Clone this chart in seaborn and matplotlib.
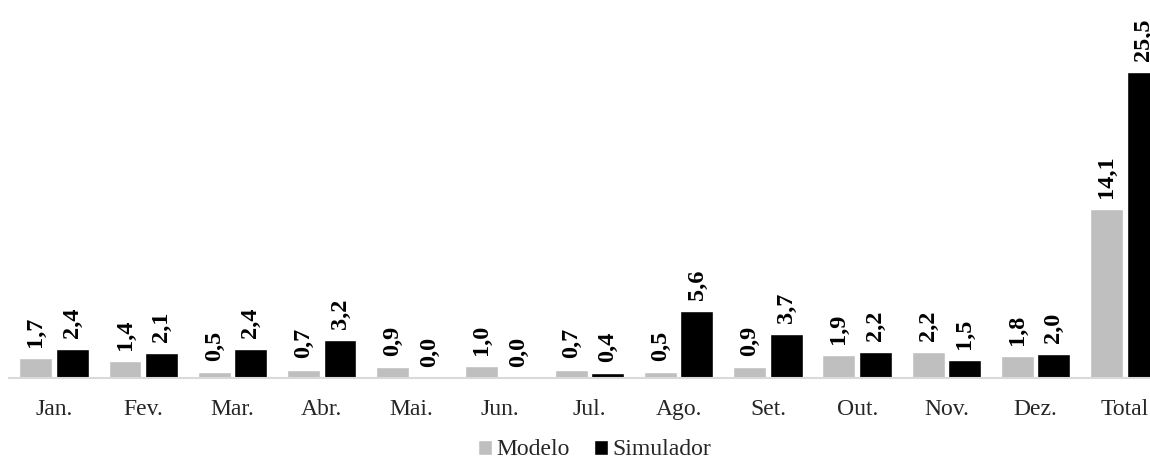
"""
plot.py
Monthly comparison Modelo vs Simulador (grouped bars with rotated labels)
"""

import pandas as pd
import matplotlib
matplotlib.use('Agg')
import matplotlib.pyplot as plt
import seaborn as sns

meses = ['Jan.', 'Fev.', 'Mar.', 'Abr.', 'Mai.', 'Jun.', 'Jul.', 'Ago.',
         'Set.', 'Out.', 'Nov.', 'Dez.', 'Total']
modelo = [1.7, 1.4, 0.5, 0.7, 0.9, 1.0, 0.7, 0.5, 0.9, 1.9, 2.2, 1.8, 14.1]
simulador = [2.4, 2.1, 2.4, 3.2, 0.0, 0.0, 0.4, 5.6, 3.7, 2.2, 1.5, 2.0, 25.5]
series = ['Modelo', 'Simulador']
cores = ['#BFBFBF', '#000000']

df = pd.DataFrame({
    'mes': meses * 2,
    'valor': modelo + simulador,
    'serie': [series[0]] * len(meses) + [series[1]] * len(meses),
})

sns.set_theme(style='white')
plt.rcParams['font.family'] = ['Liberation Serif', 'DejaVu Serif']

fig = plt.figure(figsize=(11.5, 4.62), dpi=100)
ax = fig.add_axes([0.0082, 0.1818, 1.0087, 0.818])

sns.barplot(data=df, x='mes', y='valor', hue='serie', order=meses,
            hue_order=series, palette=cores, width=0.82, gap=0.1,
            saturation=1, ax=ax, legend=True)

# rotated value labels, decimal comma
for cont in ax.containers:
    for bar in cont:
        h = bar.get_height()
        ax.annotate(f'{h:.1f}'.replace('.', ','),
                    (bar.get_x() + bar.get_width() / 2, h),
                    xytext=(0, 8), textcoords='offset points',
                    rotation=90, ha='center', va='bottom',
                    fontsize=17.5, fontweight='bold', color='black')

ax.set_xlim(-0.5, len(meses) - 0.5)
ax.set_ylim(0, 31.5)
ax.set_xlabel('')
ax.set_ylabel('')
ax.set_yticks([])
for s in ['top', 'right', 'left']:
    ax.spines[s].set_visible(False)
ax.spines['bottom'].set_color('#D9D9D9')
ax.spines['bottom'].set_linewidth(1.5)
ax.tick_params(axis='x', length=0, pad=15, labelsize=17)

handles, labels = ax.get_legend_handles_labels()
ax.get_legend().remove()
fig.legend(handles, labels, loc='center', bbox_to_anchor=(0.517, 0.026),
           ncol=2, frameon=False, fontsize=17, handlelength=0.6,
           handleheight=0.6, handletextpad=0.2, columnspacing=1.0)

plt.savefig('out.png', dpi=100)
